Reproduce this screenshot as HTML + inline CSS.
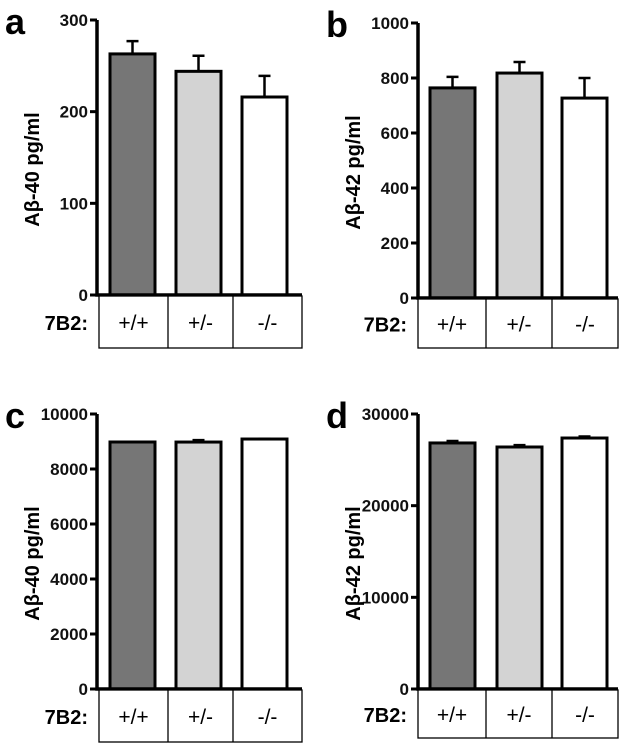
<!DOCTYPE html>
<html><head><meta charset="utf-8"><style>
html,body{margin:0;padding:0;background:#fff;width:625px;height:750px;overflow:hidden}
svg{display:block;font-family:"Liberation Sans",Arial,sans-serif}
</style></head><body>
<svg id="fig" width="625" height="750" viewBox="0 0 625 750"></svg>
<script>
const categories = ["+/+", "+/-", "-/-"];
const fills = ["#767676", "#d3d3d3", "#ffffff"];
const valuesA = [263, 244, 216];
const errorsA = [277, 261, 239];
const valuesB = [764, 818, 727];
const errorsB = [804, 858, 800];
const valuesC = [8982, 8980, 9090];
const errorsC = [8990, 9050, 9100];
const valuesD = [26840, 26400, 27380];
const errorsD = [27050, 26600, 27550];
const ticksA = [0, 100, 200, 300];
const ticksB = [0, 200, 400, 600, 800, 1000];
const ticksC = [0, 2000, 4000, 6000, 8000, 10000];
const ticksD = [0, 10000, 20000, 30000];

const NS = "http://www.w3.org/2000/svg";
const fig = document.getElementById("fig");
function mk(tag, attrs, parent, text) {
  const e = document.createElementNS(NS, tag);
  for (const k in attrs) e.setAttribute(k, attrs[k]);
  if (text !== undefined) e.textContent = text;
  parent.appendChild(e);
  return e;
}
function drawPanel(p) {
  const g = mk("g", {}, fig);
  
  
  const ymax = p.ticks[p.ticks.length - 1];
  const y = v => p.zero - (v / ymax) * (p.zero - p.top);
  const lt = mk("text", {x: p.ax - 92, y: p.top + 14, "font-size": 36, "font-weight": "bold"}, g, p.letter);
  
  
  p.values.forEach((v, i) => {
    const bx = p.barX[i];
    const bar = mk("rect", {x: bx, y: y(v), width: p.barW, height: p.zero - y(v), fill: fills[i], stroke: "#000", "stroke-width": 3}, g);
    
    
    const cx = bx + p.barW / 2;
    const eb = mk("path", {d: `M${cx},${y(v)} V${y(p.errors[i])} M${cx - 6},${y(p.errors[i])} H${cx + 6}`, stroke: "#000", "stroke-width": 2.5, fill: "none"}, g);
    
    
  });
  const axis = mk("path", {d: `M${p.ax},${p.top} V${p.zero} H${p.tr}`, stroke: "#000", "stroke-width": 3.5, fill: "none"}, g);
  
  
  p.ticks.forEach(t => {
    mk("line", {x1: p.ax - 7, x2: p.ax, y1: y(t), y2: y(t), stroke: "#000", "stroke-width": 3}, g);
    const tl = mk("text", {x: p.ax - 9, y: y(t) + 6, "font-size": 17, "font-weight": "bold", "text-anchor": "end", fill: "#111"}, g, String(t));
    
    
  });
  const yt = mk("text", {x: 0, y: 0, "font-size": 20, "font-weight": "bold", "text-anchor": "middle", transform: `translate(${p.ax - 58},${(p.top + p.zero) / 2 + 12}) rotate(-90)`}, g, p.title);
  
  
  const tb = p.zero + 1, bt = p.tableBottom;
  const tbl = mk("rect", {x: p.cols[0], y: tb, width: p.cols[3] - p.cols[0], height: bt - tb, fill: "#fff", stroke: "#000", "stroke-width": 1.3}, g);
  
  
  for (let i = 1; i < 3; i++) mk("line", {x1: p.cols[i], x2: p.cols[i], y1: tb, y2: bt, stroke: "#000", "stroke-width": 1.3}, g);
  categories.forEach((c, i) => {
    const ct = mk("text", {x: (p.cols[i] + p.cols[i + 1]) / 2, y: (tb + bt) / 2 + 8, "font-size": 21, "text-anchor": "middle"}, g, c);
    
    
  });
  const lab = mk("text", {x: p.cols[0] - 11, y: (tb + bt) / 2 + 8, "font-size": 20, "font-weight": "bold", "text-anchor": "end"}, g, "7B2:");
  
  
}
drawPanel({letter: "a", title: "A\u03b2-40 pg/ml", values: valuesA, errors: errorsA, ticks: ticksA,
  ax: 97, top: 20, zero: 295, tr: 302, barX: [110, 176, 242], barW: 45, cols: [99, 168, 233, 302], tableBottom: 348});
drawPanel({letter: "b", title: "A\u03b2-42 pg/ml", values: valuesB, errors: errorsB, ticks: ticksB,
  ax: 418, top: 23, zero: 298, tr: 618, barX: [430, 497, 562], barW: 45, cols: [418, 486, 552, 618], tableBottom: 348});
drawPanel({letter: "c", title: "A\u03b2-40 pg/ml", values: valuesC, errors: errorsC, ticks: ticksC,
  ax: 97, top: 414, zero: 689, tr: 302, barX: [110, 176, 242], barW: 45, cols: [99, 168, 233, 302], tableBottom: 742});
drawPanel({letter: "d", title: "A\u03b2-42 pg/ml", values: valuesD, errors: errorsD, ticks: ticksD,
  ax: 418, top: 414, zero: 689, tr: 618, barX: [430, 497, 562], barW: 45, cols: [418, 486, 552, 618], tableBottom: 738});
</script>
</body></html>
